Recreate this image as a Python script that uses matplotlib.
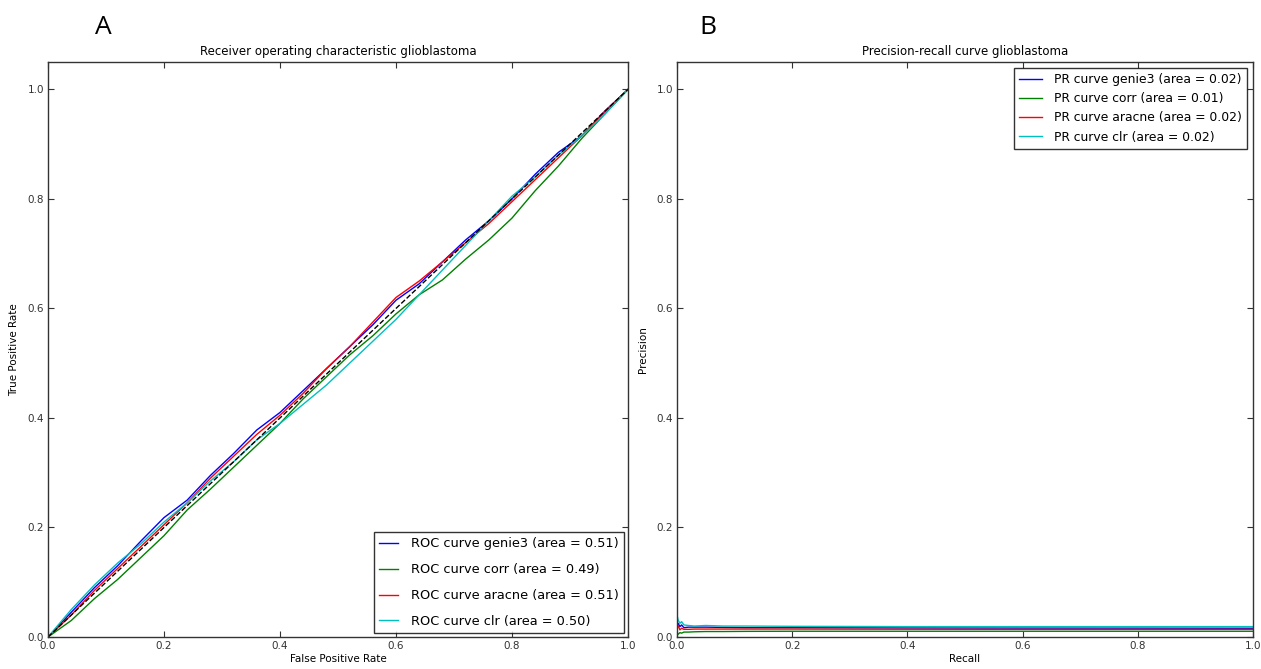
import matplotlib
matplotlib.use('Agg')
import matplotlib.pyplot as plt

# ROC curves
fpr = [0, 0.04, 0.08, 0.12, 0.16, 0.20, 0.24, 0.28, 0.32, 0.36, 0.40, 0.44, 0.48,
       0.52, 0.56, 0.60, 0.64, 0.68, 0.72, 0.76, 0.80, 0.84, 0.88, 0.92, 0.96, 1.0]
tpr_genie3 = [0, 0.045, 0.09, 0.13, 0.175, 0.218, 0.25, 0.295, 0.335, 0.378, 0.41, 0.45, 0.49,
              0.53, 0.57, 0.615, 0.645, 0.685, 0.725, 0.76, 0.80, 0.845, 0.885, 0.915, 0.96, 1.0]
tpr_corr = [0, 0.03, 0.07, 0.105, 0.145, 0.185, 0.232, 0.27, 0.31, 0.35, 0.39, 0.435, 0.475,
            0.515, 0.55, 0.59, 0.625, 0.652, 0.69, 0.725, 0.765, 0.815, 0.86, 0.91, 0.955, 1.0]
tpr_aracne = [0, 0.04, 0.085, 0.125, 0.165, 0.205, 0.245, 0.29, 0.33, 0.37, 0.405, 0.445, 0.49,
              0.53, 0.575, 0.62, 0.65, 0.685, 0.72, 0.755, 0.795, 0.835, 0.875, 0.915, 0.96, 1.0]
tpr_clr = [0, 0.05, 0.095, 0.135, 0.17, 0.21, 0.245, 0.285, 0.32, 0.36, 0.39, 0.425, 0.46,
           0.50, 0.54, 0.58, 0.625, 0.67, 0.715, 0.76, 0.805, 0.84, 0.88, 0.915, 0.955, 1.0]

# precision-recall curves
recall = [0, 0.002, 0.005, 0.008, 0.012, 0.02, 0.03, 0.05, 0.08, 0.12, 0.2, 0.4, 0.6, 0.8, 1.0]
prec_genie3 = [0.018, 0.025, 0.019, 0.022, 0.017, 0.018, 0.018, 0.018, 0.0175, 0.017, 0.017,
               0.0165, 0.0163, 0.0162, 0.016]
prec_corr = [0.008, 0.005, 0.008, 0.007, 0.009, 0.009, 0.0095, 0.01, 0.01, 0.0103, 0.0105,
             0.0105, 0.0105, 0.0105, 0.0105]
prec_aracne = [0.014, 0.021, 0.013, 0.016, 0.014, 0.014, 0.0145, 0.0145, 0.0145, 0.0145,
               0.0145, 0.0142, 0.014, 0.014, 0.014]
prec_clr = [0.04, 0.031, 0.025, 0.028, 0.022, 0.021, 0.02, 0.021, 0.02, 0.02, 0.0195,
            0.019, 0.019, 0.019, 0.019]

roc_labels = ['ROC curve genie3 (area = 0.51)', 'ROC curve corr (area = 0.49)',
              'ROC curve aracne (area = 0.51)', 'ROC curve clr (area = 0.50)']
pr_labels = ['PR curve genie3 (area = 0.02)', 'PR curve corr (area = 0.01)',
             'PR curve aracne (area = 0.02)', 'PR curve clr (area = 0.02)']
colors = ['b', 'g', 'r', 'c']

plt.rcParams['font.family'] = ['DejaVu Sans']

fig = plt.figure(figsize=(12.61, 6.69), dpi=100)
ax1 = fig.add_axes([48 / 1261, 32 / 669, 580 / 1261, 575 / 669])
ax2 = fig.add_axes([677 / 1261, 32 / 669, 576 / 1261, 575 / 669])


def style(ax):
    ax.set_xlim(0, 1.0)
    ax.set_ylim(0, 1.05)
    ax.set_xticks([0, 0.2, 0.4, 0.6, 0.8, 1.0])
    ax.set_yticks([0, 0.2, 0.4, 0.6, 0.8, 1.0])
    ax.tick_params(direction='in', top=True, right=True, labelsize=7.5, length=4,
                   width=0.8, colors='#333333', pad=3)
    for s in ax.spines.values():
        s.set_color('#333333')
        s.set_linewidth(1.0)


tprs = [tpr_genie3, tpr_corr, tpr_aracne, tpr_clr]
for t, c, lab in zip(tprs, colors, roc_labels):
    ax1.plot(fpr, t, color=c, lw=1, label=lab)
ax1.plot([0, 1], [0, 1], 'k--', lw=1)
style(ax1)
ax1.set_xlabel('False Positive Rate', fontsize=7.5, labelpad=2)
ax1.set_ylabel('True Positive Rate', fontsize=7.5, labelpad=6)
ax1.set_title('Receiver operating characteristic glioblastoma', fontsize=8.5, pad=5)
leg1 = ax1.legend(loc='lower right', fontsize=9.3, fancybox=False, handlelength=1.5,
                  handletextpad=1.0, labelspacing=1.0, borderaxespad=0.3)
leg1.get_frame().set_edgecolor('black')

precs = [prec_genie3, prec_corr, prec_aracne, prec_clr]
for p, c, lab in zip(precs, colors, pr_labels):
    ax2.plot(recall, p, color=c, lw=1, label=lab)
style(ax2)
ax2.set_xlabel('Recall', fontsize=7.5, labelpad=2)
ax2.set_ylabel('Precision', fontsize=7.5, labelpad=6)
ax2.set_title('Precision-recall curve glioblastoma', fontsize=8.5, pad=5)
leg2 = ax2.legend(loc='upper right', fontsize=8.9, fancybox=False, handlelength=1.8,
                  handletextpad=1.0, borderaxespad=0.5)
leg2.get_frame().set_edgecolor('black')

fig.text(103 / 1261, 1 - 28 / 669, 'A', fontsize=19, ha='center', va='center',
         family='Open Sans')
fig.text(708 / 1261, 1 - 28 / 669, 'B', fontsize=19, ha='center', va='center',
         family='Open Sans')

fig.savefig('out.png', dpi=100, facecolor='white')
